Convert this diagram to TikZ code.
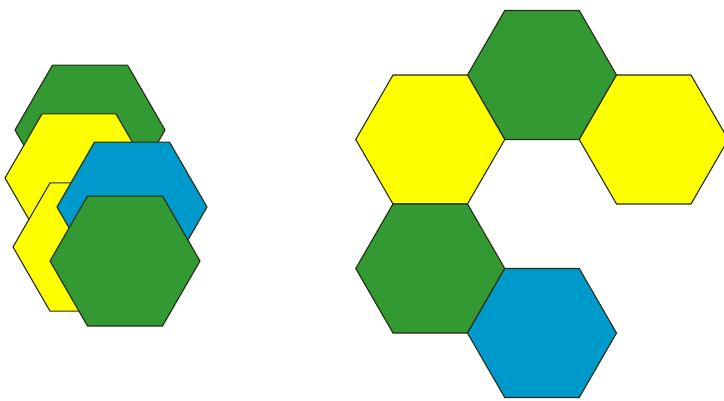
\documentclass[tikz,border=0pt]{standalone}
\definecolor{hgreen}{RGB}{51,153,51}
\definecolor{hyellow}{RGB}{255,255,0}
\definecolor{hblue}{RGB}{0,153,204}
\definecolor{hline}{RGB}{35,45,20}
\tikzset{hexcellstyle/.style={draw=hline, line width=1.1pt, line join=miter}}
\newcommand\hexcell[4]{%
  \filldraw[hexcellstyle, fill=#4, shift={(#1,#2)}]
    (0:#3) -- (60:#3) -- (120:#3) -- (180:#3) -- (240:#3) -- (300:#3) -- cycle;}
\begin{document}
\begin{tikzpicture}[x=1pt,y=-1pt]
\useasboundingbox[fill=white] (0,0) rectangle (724,400);
% left overlapping cluster
\hexcell{90}{130}{75}{hgreen}
\hexcell{79}{178}{74}{hyellow}
\hexcell{87}{247}{74}{hyellow}
\hexcell{132}{207}{75}{hblue}
\hexcell{125}{261}{75}{hgreen}
% right honeycomb
\hexcell{542}{75}{74.5}{hgreen}
\hexcell{430.25}{139.5}{74.5}{hyellow}
\hexcell{653.75}{139.5}{74.5}{hyellow}
\hexcell{430.25}{268.5}{74.5}{hgreen}
\hexcell{542}{333}{74.5}{hblue}
\end{tikzpicture}
\end{document}
